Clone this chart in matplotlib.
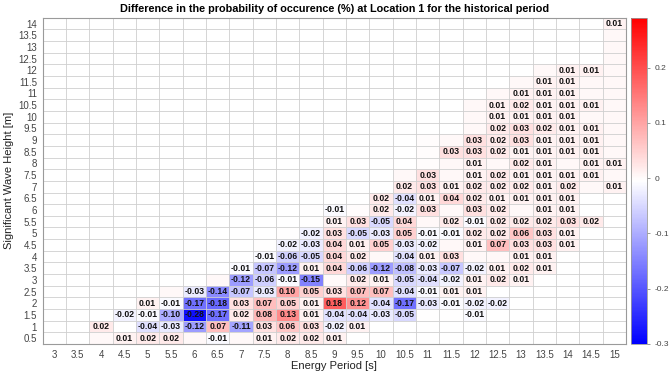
import numpy as np
import matplotlib
matplotlib.use('Agg')
import matplotlib.pyplot as plt

plt.rcParams['font.family'] = ['Liberation Sans', 'DejaVu Sans']

# energy period (columns) and significant wave height (rows)
periods = np.arange(3.0, 15.01, 0.5)
heights = np.arange(0.5, 14.01, 0.5)

# each row: (first period with a value, values going right); None = empty cell
# tiny values (|v| < 0.005) are tinted cells that carry no label
row_0_5 = (4.0, [0.003, 0.01, 0.02, 0.02, 0.002, -0.01, 0.002, 0.01, 0.02, 0.02, 0.01])
row_1_0 = (4.0, [0.02, None, -0.04, -0.03, -0.12, 0.07, -0.11, 0.03, 0.06, 0.03, -0.02, 0.01])
row_1_5 = (4.5, [-0.02, -0.01, -0.10, -0.28, -0.17, 0.02, 0.08, 0.13, 0.01, -0.04, -0.04, -0.03,
                 -0.05, -0.003, -0.003, -0.01])
row_2_0 = (5.0, [0.01, -0.01, -0.17, -0.18, 0.03, 0.07, 0.05, 0.01, 0.18, 0.12, -0.04, -0.17,
                 -0.03, -0.01, -0.02, -0.02])
row_2_5 = (5.5, [0.003, -0.03, -0.14, -0.07, -0.03, 0.10, 0.05, 0.03, 0.07, 0.07, -0.04, -0.01,
                 0.01, 0.01])
row_3_0 = (6.5, [0.003, -0.12, -0.06, -0.01, -0.15, 0.0, 0.02, 0.01, -0.05, -0.04, -0.02, 0.01,
                 0.02, 0.01])
row_3_5 = (7.0, [-0.01, -0.07, -0.12, 0.01, 0.04, -0.06, -0.12, -0.08, -0.03, -0.07, -0.02, 0.01,
                 0.02, 0.01])
row_4_0 = (7.5, [-0.01, -0.06, -0.05, 0.04, 0.02, 0.002, -0.04, 0.01, 0.03, 0.003, 0.003, 0.01, 0.01])
row_4_5 = (7.5, [-0.003, -0.02, -0.03, 0.04, 0.01, 0.05, -0.03, -0.02, 0.002, 0.01, 0.07, 0.03,
                 0.03, 0.01])
row_5_0 = (8.0, [-0.003, -0.02, 0.03, -0.05, -0.03, 0.05, -0.01, -0.01, 0.02, 0.02, 0.06, 0.03, 0.01])
row_5_5 = (8.5, [-0.003, 0.01, 0.03, -0.05, 0.04, 0.002, 0.02, -0.01, 0.02, 0.02, 0.02, 0.03, 0.02])
row_6_0 = (8.5, [-0.003, -0.01, -0.002, 0.02, -0.02, 0.03, 0.002, 0.03, 0.02, 0.002, 0.01, 0.01])
row_6_5 = (10.0, [0.02, -0.04, 0.01, 0.04, 0.02, 0.01, 0.01, 0.01, 0.01])
row_7_0 = (10.5, [0.02, 0.03, 0.01, 0.02, 0.02, 0.02, 0.01, 0.02, 0.003, 0.01])
row_7_5 = (10.5, [0.002, 0.03, 0.003, 0.01, 0.02, 0.01, 0.01, 0.01, 0.01, 0.003])
row_8_0 = (11.0, [-0.002, 0.003, 0.01, 0.003, 0.02, 0.01, 0.003, 0.01, 0.01])
row_8_5 = (11.0, [-0.002, 0.03, 0.03, 0.02, 0.01, 0.01, 0.01, 0.01, 0.003])
row_9_0 = (11.0, [-0.002, 0.003, 0.03, 0.02, 0.03, 0.01, 0.01, 0.01, 0.003])
row_9_5 = (12.0, [0.003, 0.02, 0.03, 0.02, 0.01, 0.01, 0.003])
row_10_0 = (12.0, [0.003, 0.01, 0.01, 0.01, 0.01, 0.003, 0.003])
row_10_5 = (12.0, [0.003, 0.01, 0.02, 0.01, 0.01, 0.01, 0.003])
row_11_0 = (12.5, [0.003, 0.01, 0.01, 0.01, 0.003, 0.003])
row_11_5 = (13.0, [0.003, 0.01, 0.01, 0.003, 0.003])
row_12_0 = (13.5, [0.003, 0.01, 0.01, 0.003])
row_12_5 = (15.0, [0.003])
row_13_0 = (15.0, [0.003])
row_13_5 = (15.0, [0.003])
row_14_0 = (15.0, [0.01])

rows = [row_0_5, row_1_0, row_1_5, row_2_0, row_2_5, row_3_0, row_3_5, row_4_0, row_4_5,
        row_5_0, row_5_5, row_6_0, row_6_5, row_7_0, row_7_5, row_8_0, row_8_5, row_9_0,
        row_9_5, row_10_0, row_10_5, row_11_0, row_11_5, row_12_0, row_12_5, row_13_0,
        row_13_5, row_14_0]

Z = np.full((len(heights), len(periods)), np.nan)
for i, (start, vals) in enumerate(rows):
    j0 = int(round((start - periods[0]) / 0.5))
    for k, v in enumerate(vals):
        if v is not None:
            Z[i, j0 + k] = v

fig = plt.figure(figsize=(6.7, 3.72), dpi=100)
ax = fig.add_axes([0.0637, 0.0753, 0.8706, 0.877])
cax = fig.add_axes([0.9420, 0.0753, 0.024, 0.877])

xe = np.append(periods - 0.25, periods[-1] + 0.25)
ye = np.append(heights - 0.25, heights[-1] + 0.25)
cmap = plt.get_cmap('bwr').copy()
cmap.set_bad('white')
mesh = ax.pcolormesh(xe, ye, np.ma.masked_invalid(Z), cmap=cmap, vmin=-0.3, vmax=0.29)

for i, h in enumerate(heights):
    for j, p in enumerate(periods):
        v = Z[i, j]
        if np.isfinite(v) and abs(v) >= 0.005:
            ax.text(p, h, '%.2f' % v, ha='center', va='center', fontsize=6.2,
                    fontweight='bold', color='#111111')

ax.set_xlim(xe[0], xe[-1])
ax.set_ylim(ye[0], ye[-1])
ax.set_xticks(periods)
ax.set_xticklabels(['%g' % p for p in periods])
ax.set_yticks(heights)
ax.set_yticklabels(['%g' % h for h in heights])
ax.set_xticks(xe, minor=True)
ax.set_yticks(ye, minor=True)
ax.grid(which='minor', color='#cfcfcf', linewidth=0.6)
ax.tick_params(which='both', length=0, labelsize=7, labelcolor='#444444', pad=4)
for s in ax.spines.values():
    s.set_color('#9a9a9a')
    s.set_linewidth(0.8)

ax.set_xlabel('Energy Period [s]', fontsize=8, color='#222222', labelpad=1)
ax.set_ylabel('Significant Wave Height [m]', fontsize=8, color='#222222', labelpad=3)
ax.set_title('Difference in the probability of occurence (%) at Location 1 for the historical period',
             fontsize=7.8, fontweight='bold', pad=4)

cb = fig.colorbar(mesh, cax=cax)
cb.set_ticks([-0.3, -0.2, -0.1, 0, 0.1, 0.2])
cb.set_ticklabels(['-0.3', '-0.2', '-0.1', '0', '0.1', '0.2'])
cb.ax.tick_params(labelsize=6, labelcolor='#444444', length=2, color='#888888', width=0.6)
cb.outline.set_edgecolor('#9a9a9a')
cb.outline.set_linewidth(0.6)

fig.savefig('out.png', dpi=100)
